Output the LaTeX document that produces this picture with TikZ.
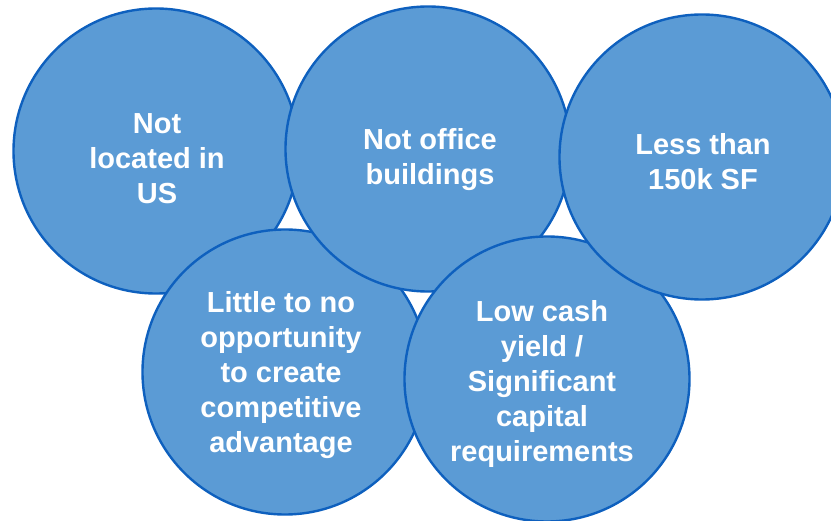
\documentclass[tikz,border=0pt]{standalone}
\usepackage{fontspec}
\setmainfont{Liberation Sans}
\usepackage{tikz}
\usetikzlibrary{positioning}

\definecolor{bubblefill}{RGB}{91,155,213}
\definecolor{bubbleedge}{RGB}{14,96,190}

\begin{document}
\begin{tikzpicture}[x=1pt, y=-1pt,
    bubble/.style={circle, fill=bubblefill, draw=bubbleedge, line width=2.4pt,
        minimum size=285pt, inner sep=0pt},
    bubbletext/.style={text=white, align=center, inner sep=0pt,
        font=\bfseries\fontsize{29}{35}\selectfont}]
        \useasboundingbox (0,0) rectangle (831,521);
        \clip (0,0) rectangle (831,521);

        % back row and front row, later circles lie on top
        \node[bubble](1) at (156,151) {};
        \node[bubbletext](1t) at ([shift={(1,8)}]1) {Not\\located in\\US};
        \node[bubble](4) at (285,372) {};
        \node[bubbletext](4t) at ([shift={(-4,3)}]4) {Little to no\\opportunity\\to create\\competitive\\advantage};
        \node[bubble](2) at (428,149) {};
        \node[bubbletext](2t) at ([shift={(2,11)}]2) {Not office\\buildings};
        \node[bubble](5) at (547,379) {};
        \node[bubbletext](5t) at ([shift={(-5,5)}]5) {Low cash\\yield /\\Significant\\capital\\requirements};
        \node[bubble](3) at (702,157) {};
        \node[bubbletext](3t) at ([shift={(1,5)}]3) {Less than\\150k SF};
    \end{tikzpicture}
\end{document}
